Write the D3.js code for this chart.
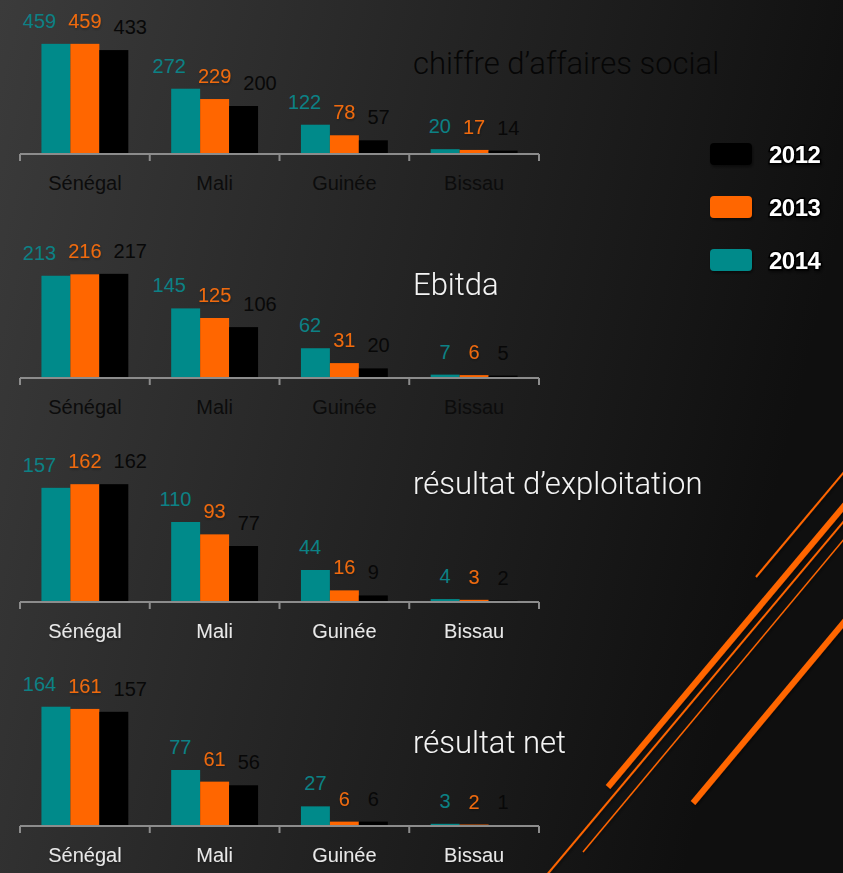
<!DOCTYPE html>
<html>
<head>
<meta charset="utf-8">
<script src="https://cdn.jsdelivr.net/npm/d3@7"></script>
<style>
    body { margin: 0; background: #1a1a1a; overflow: hidden; }
    .value { font-family: "Liberation Sans", Arial, sans-serif; font-size: 20px; }
    .cat { font-family: "Liberation Sans", Arial, sans-serif; font-size: 20px; }
    .title { font-family: Roboto, "Liberation Sans", sans-serif; font-weight: 300; font-size: 31px; }
    .legend-text { font-family: "Liberation Sans", Arial, sans-serif; font-weight: bold; font-size: 24px; letter-spacing: -0.5px; }
</style>
</head>
<body>
<div id="chart"></div>
<script>
const countries = ["Sénégal", "Mali", "Guinée", "Bissau"]
const years = ["2014", "2013", "2012"]
const metrics = ["chiffre d’affaires social", "Ebitda", "résultat d’exploitation", "résultat net"]

// one row per metric, one value per country
const values2014 = [
    [459, 272, 122, 20],
    [213, 145, 62, 7],
    [157, 110, 44, 4],
    [164, 77, 27, 3],
]
const values2013 = [
    [459, 229, 78, 17],
    [216, 125, 31, 6],
    [162, 93, 16, 3],
    [161, 61, 6, 2],
]
const values2012 = [
    [433, 200, 57, 14],
    [217, 106, 20, 5],
    [162, 77, 9, 2],
    [157, 56, 6, 1],
]
const yMax = [500, 250, 165, 165]

const seriesValues = [values2014, values2013, values2012]
const barColors = { "2014": "#008a8a", "2013": "#ff6600", "2012": "#000000" }
const labelColors = { "2014": "#0c8185", "2013": "#ef6a0e", "2012": "#080808" }
const titleColors = ["#060606", "#f4f4f4", "#f4f4f4", "#f4f4f4"]
const catColors = ["#0c0c0c", "#0c0c0c", "#e8e8e8", "#e8e8e8"]

const W = 843, H = 873
const svg = d3.select("#chart").append("svg")
    .attr("width", W)
    .attr("height", H)

const defs = svg.append("defs")
const bg = defs.append("linearGradient")
    .attr("id", "bg")
    .attr("x1", 0).attr("y1", 0).attr("x2", 1).attr("y2", 0.25)
bg.append("stop").attr("offset", "0%").attr("stop-color", "#3b3b3b")
bg.append("stop").attr("offset", "45%").attr("stop-color", "#272727")
bg.append("stop").attr("offset", "100%").attr("stop-color", "#0f0f0f")

const shadow = defs.append("filter").attr("id", "shadow")
    .attr("x", "-20%").attr("y", "-20%").attr("width", "140%").attr("height", "160%")
shadow.append("feDropShadow")
    .attr("dx", 1).attr("dy", 2).attr("stdDeviation", 1.5)
    .attr("flood-color", "#000").attr("flood-opacity", 0.5)

// lighter shadow for text
const tshadow = defs.append("filter").attr("id", "tshadow")
    .attr("x", "-10%").attr("y", "-20%").attr("width", "120%").attr("height", "150%")
tshadow.append("feDropShadow")
    .attr("dx", 0.5).attr("dy", 1.5).attr("stdDeviation", 1)
    .attr("flood-color", "#000").attr("flood-opacity", 0.3)

// dark text gets no shadow, it only smears it
function textShadow(color) {
    return d3.hsl(color).l < 0.3 ? null : "url(#tshadow)"
}

svg.append("rect")
    .attr("width", W)
    .attr("height", H)
    .attr("fill", "url(#bg)")

//Orange decoration lines
const deco = [
    { x1: 756, y1: 577, x2: 870, y2: 441, w: 2 },
    { x1: 608, y1: 787, x2: 870, y2: 475, w: 6 },
    { x1: 540, y1: 883, x2: 870, y2: 490, w: 2 },
    { x1: 583, y1: 852, x2: 870, y2: 508, w: 1.5 },
    { x1: 693, y1: 803, x2: 870, y2: 591, w: 6 },
]
svg.append("g")
    .selectAll("line")
    .data(deco)
    .enter().append("line")
    .attr("x1", d => d.x1).attr("y1", d => d.y1)
    .attr("x2", d => d.x2).attr("y2", d => d.y2)
    .attr("stroke", "#ff6600")
    .attr("stroke-width", d => d.w)
    .attr("filter", "url(#shadow)")
//End decoration

const x = d3.scaleBand()
    .domain(countries)
    .range([20, 539])
    .padding(0)

const xSub = d3.scaleBand()
    .domain(years)
    .range([0, x.bandwidth()])
    .paddingInner(0)
    .paddingOuter(0.74)

const plotH = 120
const firstAxis = 154, chartStep = 224

// measure label widths to spread labels that would collide
const measure = svg.append("text").attr("class", "value").attr("opacity", 0)
function textWidth(s) {
    measure.text(s)
    return measure.node().getComputedTextLength()
}

metrics.forEach(function (metric, m) {
    const base = firstAxis + m * chartStep
    const y = d3.scaleLinear()
        .domain([0, yMax[m]])
        .range([base, base - plotH])

    const chart = svg.append("g")

    const rows = []
    countries.forEach(function (c, ci) {
        years.forEach(function (yr, si) {
            rows.push({ country: c, year: yr, value: seriesValues[si][m][ci], si: si })
        })
    })

    chart.selectAll(".bar")
        .data(rows)
        .enter().append("rect")
        .attr("class", "bar")
        .attr("x", d => x(d.country) + xSub(d.year))
        .attr("y", d => y(d.value))
        .attr("width", xSub.bandwidth())
        .attr("height", d => base - y(d.value))
        .attr("fill", d => barColors[d.year])

    // axis
    const axis = chart.append("g")
        .attr("transform", `translate(0,${base})`)
        .call(d3.axisBottom(x).tickSize(0).tickFormat(""))
    axis.select(".domain").remove()
    axis.append("line")
        .attr("x1", 20).attr("x2", 539)
        .attr("stroke", "#8c8c8c").attr("stroke-width", 2)
    axis.selectAll(".sep")
        .data(countries.map(c => x(c)).concat([539]))
        .enter().append("line")
        .attr("x1", d => d).attr("x2", d => d)
        .attr("y1", 0).attr("y2", 7)
        .attr("stroke", "#8c8c8c").attr("stroke-width", 2)

    chart.selectAll(".cat")
        .data(countries)
        .enter().append("text")
        .attr("class", "cat")
        .attr("x", d => x(d) + x.bandwidth() / 2)
        .attr("y", base + 36)
        .attr("text-anchor", "middle")
        .attr("fill", catColors[m])
        .attr("filter", textShadow(catColors[m]))
        .text(d => d)

    // value labels
    const gap = 12
    rows.forEach(function (d) {
        d.w = textWidth(String(d.value))
    })
    countries.forEach(function (c) {
        const g = rows.filter(r => r.country == c)
        const bw = xSub.bandwidth()
        const left = Math.max(0, g[0].w / 2 + g[1].w / 2 + gap - bw)
        const right = Math.max(0, g[1].w / 2 + g[2].w / 2 + gap - bw)
        g[0].dx = -left
        g[1].dx = 0
        g[2].dx = right
    })

    chart.selectAll(".value")
        .data(rows)
        .enter().append("text")
        .attr("class", "value")
        .attr("x", d => x(d.country) + xSub(d.year) + xSub.bandwidth() / 2 + d.dx)
        .attr("y", d => y(d.value) - 16)
        .attr("text-anchor", "middle")
        .attr("fill", d => labelColors[d.year])
        .attr("filter", d => textShadow(labelColors[d.year]))
        .text(d => d.value)

    //Title
    svg.append("text")
        .attr("class", "title")
        .attr("x", 413)
        .attr("y", base - 80)
        .attr("fill", titleColors[m])
        .attr("filter", textShadow(titleColors[m]))
        .text(metric)
})
measure.remove()

// title baselines don't sit at the same offset in every panel
svg.selectAll(".title")
    .attr("y", (d, i) => [74, 295, 494, 753][i])

//Legend
const legendYears = years.slice().reverse()
const legend = svg.append("g")
    .attr("transform", "translate(710,143)")
legend.selectAll("rect")
    .data(legendYears)
    .enter().append("rect")
    .attr("x", 0)
    .attr("y", (d, i) => i * 53)
    .attr("width", 42)
    .attr("height", 22)
    .attr("rx", 4)
    .attr("fill", d => barColors[d])
    .attr("filter", "url(#shadow)")
legend.selectAll("text")
    .data(legendYears)
    .enter().append("text")
    .attr("class", "legend-text")
    .attr("x", 59)
    .attr("y", (d, i) => i * 53 + 20)
    .attr("fill", "#fff")
    .attr("stroke", "#000")
    .attr("stroke-width", 3)
    .attr("paint-order", "stroke")
    .attr("filter", "url(#shadow)")
    .text(d => d)
//End Legend
</script>
</body>
</html>
